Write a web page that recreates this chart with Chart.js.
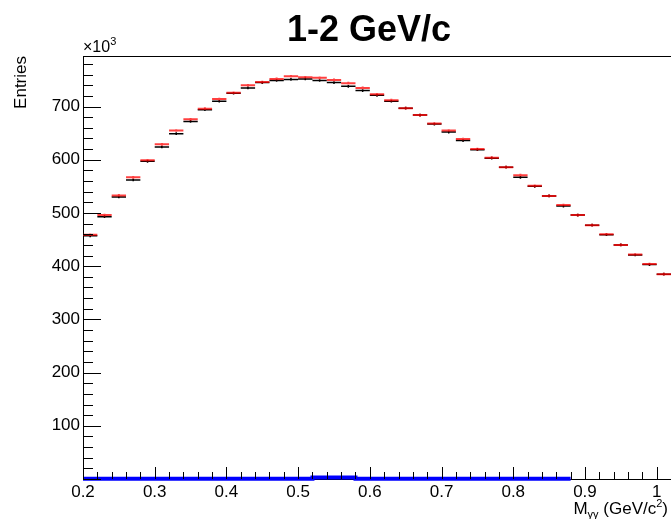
<!DOCTYPE html>
<html>
<head>
<meta charset="utf-8">
<title>1-2 GeV/c</title>
<script src="https://cdn.jsdelivr.net/npm/chart.js@4.4.1/dist/chart.umd.min.js"></script>
<style>
    html, body { margin: 0; padding: 0; background: #fff; }
</style>
</head>
<body>
<canvas id="massChart" width="671" height="519"></canvas>
<script>
// M_gg histogram, 0.02 GeV/c^2 bins, entries in units of 10^3
const binWidth = 0.02;
const binCenters = [
    0.21, 0.23, 0.25, 0.27, 0.29, 0.31, 0.33, 0.35, 0.37, 0.39,
    0.41, 0.43, 0.45, 0.47, 0.49, 0.51, 0.53, 0.55, 0.57, 0.59,
    0.61, 0.63, 0.65, 0.67, 0.69, 0.71, 0.73, 0.75, 0.77, 0.79,
    0.81, 0.83, 0.85, 0.87, 0.89, 0.91, 0.93, 0.95, 0.97, 0.99, 1.01,
];
const blackEntries = [
    457, 493, 530, 562, 597, 624, 649, 672, 694, 710,
    725, 735, 745, 749, 751, 752, 749, 745, 738, 730,
    721, 710, 697, 684, 667, 652, 636, 619, 603, 586,
    567, 550, 532, 513, 496, 477, 459, 440, 421, 403, 385,
];
const redEntries = [
    459, 496, 533, 567, 599, 629, 655, 676, 696, 714,
    726, 740, 746, 752, 757, 755, 754, 750, 744, 735,
    723, 712, 697, 684, 668, 655, 639, 620, 604, 586,
    571, 551, 532, 515, 496, 477, 460, 440, 422, 404, 385,
];
const entryErr = 2.5;

// blue histogram, only filled up to 0.88
const blueCenters = [
    0.21, 0.23, 0.25, 0.27, 0.29, 0.31, 0.33, 0.35, 0.37, 0.39,
    0.41, 0.43, 0.45, 0.47, 0.49, 0.51, 0.53, 0.55, 0.57, 0.59,
    0.61, 0.63, 0.65, 0.67, 0.69, 0.71, 0.73, 0.75, 0.77, 0.79,
    0.81, 0.83, 0.85, 0.87,
];
const blueEntries = [
    0.5, 0.5, 0.5, 0.5, 0.5, 0.5, 0.5, 0.5, 0.5, 0.5,
    0.5, 0.5, 0.5, 0.5, 0.5, 0.5, 3, 3, 3, 0.5,
    0.5, 0.5, 0.5, 0.5, 0.5, 0.5, 0.5, 0.5, 0.5, 0.5,
    0.5, 0.5, 0.5, 0.5,
];

const xTicks = [0.2, 0.3, 0.4, 0.5, 0.6, 0.7, 0.8, 0.9, 1.0];
const yTicks = [100, 200, 300, 400, 500, 600, 700];

const FONT = '"Liberation Sans", Arial, Helvetica, sans-serif';

// blue step line from bin edges
const bluePoints = blueCenters.map((c, i) => ({ x: c - binWidth / 2, y: blueEntries[i] }));
bluePoints.push({
    x: blueCenters[blueCenters.length - 1] + binWidth / 2,
    y: blueEntries[blueEntries.length - 1],
});

// ROOT-like decorations: bin bars, inner ticks, frame and texts
const rootStyle = {
    id: "rootStyle",
    afterDatasetsDraw(chart) {
        const { ctx, scales: { x, y } } = chart;
        ctx.save();
        chart.data.datasets.forEach((ds, di) => {
            if (!ds.binBars) return;
            const meta = chart.getDatasetMeta(di);
            ctx.strokeStyle = ds.barColor;
            ctx.lineWidth = ds.barWidth;
            ctx.beginPath();
            meta.data.forEach((pt, i) => {
                const c = ds.data[i].x;
                const v = ds.data[i].y;
                ctx.moveTo(x.getPixelForValue(c - binWidth / 2), pt.y);
                ctx.lineTo(x.getPixelForValue(c + binWidth / 2), pt.y);
                ctx.moveTo(pt.x, y.getPixelForValue(v - entryErr));
                ctx.lineTo(pt.x, y.getPixelForValue(v + entryErr));
            });
            ctx.stroke();
        });
        ctx.restore();
    },
    afterDraw(chart) {
        const { ctx, chartArea: area, scales: { x, y } } = chart;
        ctx.save();
        ctx.strokeStyle = "#000";
        ctx.lineWidth = 1;
        ctx.beginPath();
        // top frame
        ctx.moveTo(area.left, area.top + 0.5);
        ctx.lineTo(area.right, area.top + 0.5);
        // x ticks, pointing up
        for (let i = 0; i <= 41; i++) {
            const v = 0.2 + i * 0.02;
            if (v > x.max + 1e-9) break;
            const px = Math.round(x.getPixelForValue(v)) + 0.5;
            const len = i % 5 === 0 ? 12 : 7;
            ctx.moveTo(px, area.bottom);
            ctx.lineTo(px, area.bottom - len);
        }
        // y ticks, pointing right
        for (let v = 0; v <= y.max; v += 20) {
            const py = Math.round(y.getPixelForValue(v)) + 0.5;
            const len = v % 100 === 0 ? 18 : 10;
            ctx.moveTo(area.left, py);
            ctx.lineTo(area.left + len, py);
        }
        ctx.stroke();

        ctx.fillStyle = "#000";
        // title
        ctx.font = "bold 36px " + FONT;
        ctx.textAlign = "center";
        ctx.textBaseline = "alphabetic";
        ctx.fillText("1-2 GeV/c", 369, 41);

        // exponent
        ctx.textAlign = "left";
        ctx.font = "16px " + FONT;
        ctx.fillText("\u00d710", area.left, 52);
        const w10 = ctx.measureText("\u00d710").width;
        ctx.font = "11px " + FONT;
        ctx.fillText("3", area.left + w10, 45);

        // y title
        ctx.save();
        ctx.translate(21, area.top);
        ctx.rotate(-Math.PI / 2);
        ctx.font = "17px " + FONT;
        ctx.textAlign = "right";
        ctx.textBaseline = "middle";
        ctx.fillText("Entries", 0, 0);
        ctx.restore();

        // x title, right aligned: M_{#gamma#gamma} (GeV/c^{2})
        const parts = [
            { t: "M", size: 17, dy: 0 },
            { t: "\u03b3\u03b3", size: 11, dy: 4 },
            { t: " (GeV/c", size: 17, dy: 0 },
            { t: "2", size: 11, dy: -7 },
            { t: ")", size: 17, dy: 0 },
        ];
        let total = 0;
        parts.forEach(p => {
            ctx.font = p.size + "px " + FONT;
            p.w = ctx.measureText(p.t).width;
            total += p.w;
        });
        let cx = 668 - total;
        const base = 514;
        ctx.textAlign = "left";
        parts.forEach(p => {
            ctx.font = p.size + "px " + FONT;
            ctx.fillText(p.t, cx, base + p.dy);
            cx += p.w;
        });
        ctx.restore();
    },
};

new Chart(document.getElementById("massChart"), {
    type: "scatter",
    data: {
        datasets: [
            {
                label: "blue",
                data: bluePoints,
                showLine: true,
                stepped: "before",
                borderColor: "#0000ff",
                borderWidth: 4,
                pointRadius: 0,
                clip: false,
            },
            {
                label: "black",
                data: binCenters.map((c, i) => ({ x: c, y: blackEntries[i] })),
                pointRadius: 0,
                binBars: true,
                barColor: "#000000",
                barWidth: 1.5,
            },
            {
                label: "red",
                data: binCenters.map((c, i) => ({ x: c, y: redEntries[i] })),
                pointRadius: 0,
                binBars: true,
                barColor: "rgba(255, 0, 0, 0.75)",
                barWidth: 2,
            },
        ],
    },
    options: {
        responsive: false,
        animation: false,
        layout: { padding: { top: 56, right: 0, bottom: 0, left: 0 } },
        plugins: {
            legend: { display: false },
            tooltip: { enabled: false },
        },
        scales: {
            x: {
                type: "linear",
                min: 0.2,
                max: 1.02,
                grid: { display: false, drawTicks: false },
                border: { display: true, color: "#000", width: 1 },
                afterBuildTicks: scale => {
                    scale.ticks = xTicks.map(v => ({ value: v }));
                },
                afterFit: scale => {
                    scale.height = 40;
                    scale.paddingLeft = 0;
                    scale.paddingRight = 0;
                },
                ticks: {
                    color: "#000",
                    font: { family: FONT, size: 17 },
                    padding: 3,
                    maxRotation: 0,
                    autoSkip: false,
                    callback: v => (Math.abs(v - 1) < 1e-9 ? "1" : v.toFixed(1)),
                },
            },
            y: {
                min: 0,
                max: 795,
                grid: { display: false, drawTicks: false },
                border: { display: true, color: "#000", width: 1 },
                afterBuildTicks: scale => {
                    scale.ticks = yTicks.map(v => ({ value: v }));
                },
                afterFit: scale => {
                    scale.width = 83;
                    scale.paddingTop = 0;
                    scale.paddingBottom = 0;
                },
                ticks: {
                    color: "#000",
                    font: { family: FONT, size: 17 },
                    padding: 3,
                    autoSkip: false,
                    callback: v => String(v),
                },
            },
        },
    },
    plugins: [rootStyle],
});
</script>
</body>
</html>
